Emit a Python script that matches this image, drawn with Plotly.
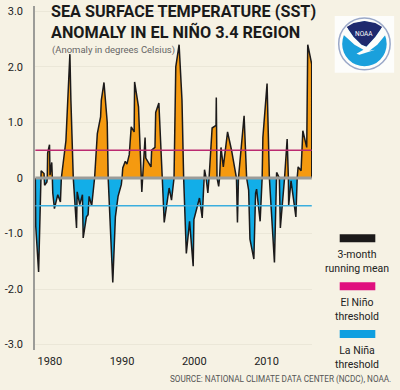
import plotly.graph_objects as go

# (year position, anomaly)
years = [1978.0,1978.05,1978.45,1978.73,1978.76,1978.8,1979.2,1979.27,1979.28,1979.6,1979.65,1979.7,1979.96,1980.03,1980.27,1980.35,1980.41,1980.64,1981.1,1981.47,1981.6,
 1982.23,1982.78,1982.92,1983.25,1983.7,1983.79,1984.15,1984.52,1984.62,1985.07,1985.3,1985.44,1985.8,1986.2,1986.58,1987.03,1987.13,1987.5,1987.95,1988.08,1988.72,1989.08,1989.45,1989.9,1990.0,
 1990.1,1990.45,1990.68,1991.0,1991.27,1991.68,1991.74,1992.28,1992.67,1992.74,1992.85,1993.19,1993.29,1994.01,1994.1,1994.56,1994.66,1995.1,1995.57,1995.84,1996.52,1996.85,1997.2,
 1997.44,1997.9,1998.3,1998.53,1998.9,1999.35,1999.85,1999.95,2000.72,2001.1,2001.3,2001.42,2001.64,2001.88,2002.05,2002.47,2003.01,2003.05,2003.15,2003.38,2003.5,2003.7,2004.02,2004.61,2005.16,2005.84,2005.98,2006.12,
 2006.9,2007.25,2007.53,2007.71,2008.25,2008.49,2008.63,2009.12,2009.4,2009.5,2010.08,2010.4,2011.1,2011.37,2011.4,2011.78,2011.92,2012.5,2012.86,2013.03,2013.07,2013.4,2014.07,2014.25,2014.38,2014.79,2015.03,2015.57,2015.71,2016.26,2016.27]
anomaly = [0,-0.86,-1.69,-0.2,0,0.13,0.08,0,-0.13,-0.07,0,0.45,0.6,0.05,0.28,0,-0.27,-0.55,-0.3,-0.43,0,
 0.67,2.23,1.4,0,-0.9,-0.25,-0.48,-0.3,-1.08,-0.7,-0.66,-0.33,-0.5,0,0.8,1.1,1.4,1.72,1.0,0,-1.88,-0.7,-0.33,-0.12,0,
 0.18,0.3,0.25,0.42,0.92,0.83,1.73,1.28,0,-0.25,0,0.73,0.36,0.2,0.5,0.55,1.18,1.35,0,-0.8,-0.18,-0.4,0,
 2.0,2.4,1.4,0,-1.36,-0.78,-1.59,-0.75,-0.36,-0.72,0,0.15,0,-0.27,0,0.9,0.95,1.45,0,-0.15,0,0.55,0.2,0.83,0.5,0,-0.8,0,
 1.12,0,-0.22,-1.1,-1.46,-0.27,-0.2,-0.78,0,0.73,1.7,0,-1.52,0,0.1,0,-0.9,0,0.7,0,-0.5,-0.05,-0.7,0,0.2,0.13,0.85,0.55,2.4,2.05,0]
el_nino = 0.5
la_nina = -0.5
year_ticks = [1980, 1990, 2000, 2010]
y_ticks = [3, 2, 1, 0, -1, -2, -3]
y_labels = ["3.0", "2.0", "1.0", "0", "-1.0", "-2.0", "-3.0"]
legend_items = [("3-month<br>running mean", "#1c1a1a"), ("El Niño<br>threshold", "#e0107f"), ("La Niña<br>threshold", "#0f9fe0")]

W, H = 400, 390
L, R, T, B = 32, 312, 5, 350
FONT = "Roboto, sans-serif"
px = lambda x: (x - L) / (R - L)
py = lambda y: (B - y) / (B - T)

fig = go.Figure()
fig.add_trace(go.Scatter(x=years, y=[max(v, 0) for v in anomaly], mode="none", fill="tozeroy", fillcolor="#f59a10", hoverinfo="skip"))
fig.add_trace(go.Scatter(x=years, y=[min(v, 0) for v in anomaly], mode="none", fill="tozeroy", fillcolor="#12aee8", hoverinfo="skip"))
fig.add_trace(go.Scatter(x=years, y=anomaly, mode="lines", line=dict(color="#1c1a1a", width=1.5), hoverinfo="skip"))
x0, x1 = years[0], years[-1]
fig.add_trace(go.Scatter(x=[x0, x1], y=[el_nino]*2, mode="lines", line=dict(color="#bb2a70", width=1.6), hoverinfo="skip"))
fig.add_trace(go.Scatter(x=[x0, x1], y=[la_nina]*2, mode="lines", line=dict(color="#3aaede", width=1.6), hoverinfo="skip"))
fig.add_trace(go.Scatter(x=[x0, x1], y=[0, 0], mode="lines", line=dict(color="#9c9c98", width=3.2), hoverinfo="skip"))

shapes = []
annos = []
# legend
for (lab, col), top in zip(legend_items, (234, 282, 330)):
    shapes.append(dict(type="rect", xref="paper", yref="paper", x0=px(340), x1=px(376), y0=py(top), y1=py(top+8), fillcolor=col, line_width=0))
    annos.append(dict(text=lab, xref="paper", yref="paper", x=px(357), y=py(top+12), xanchor="center", yanchor="top", showarrow=False,
                      font=dict(family=FONT, size=10.5, color="#222"), align="center"))
# logo
shapes.append(dict(type="rect", xref="paper", yref="paper", x0=px(335), x1=px(395), y0=py(15), y1=py(72), fillcolor="#fdfdfb", line_width=0))
def circ(cx, cy, r, **kw):
    shapes.append(dict(type="circle", xref="paper", yref="paper", x0=px(cx-r), x1=px(cx+r), y0=py(cy+r), y1=py(cy-r), **kw))
circ(365, 43, 26, fillcolor="#fdfdfb", line=dict(color="#9aa8c8", width=1.5))
circ(365, 43, 22.5, fillcolor="#1aa0dc", line_width=0)
def path(pts):
    return "M " + " L ".join(f"{px(a):.4f},{py(b):.4f}" for a, b in pts) + " Z"
shapes.append(dict(type="path", xref="paper", yref="paper", fillcolor="#1f2a6e", line_width=0,
    path=path([(347,26),(354,22),(365,20),(376,22),(383,26),(376,36),(367,46),(362,44),(354,36)])))
shapes.append(dict(type="path", xref="paper", yref="paper", fillcolor="#fdfdfb", line_width=0,
    path=path([(343,33),(347,26),(354,36),(362,44),(367,46),(376,36),(383,26),(387,33),(378,44),(370,50),(376,49),(360,54),(357,53),(364,49),(355,44)])))
annos.append(dict(text="NOAA", xref="paper", yref="paper", x=px(365), y=py(33), xanchor="center", yanchor="middle", showarrow=False,
                  font=dict(family=FONT, size=6.5, color="#fdfdfb")))
# titles
annos.append(dict(text="<b>SEA SURFACE TEMPERATURE (SST)<br>ANOMALY IN EL NIÑO 3.4 REGION</b>", xref="paper", yref="paper", x=px(46), y=py(-1), xanchor="left", yanchor="top",
                  showarrow=False, align="left", font=dict(family=FONT, size=16.2, color="#1a1a1a")))
annos.append(dict(text="(Anomaly in degrees Celsius)", xref="paper", yref="paper", x=px(47), y=py(49), xanchor="left", yanchor="middle",
                  showarrow=False, font=dict(family=FONT, size=9.5, color="#666")))
annos.append(dict(text="SOURCE: NATIONAL CLIMATE DATA CENTER (NCDC), NOAA.", xref="paper", yref="paper", x=px(394), y=py(380), xanchor="right", yanchor="middle",
                  showarrow=False, font=dict(family=FONT, size=8.2, color="#555")))

fig.update_layout(width=W, height=H, margin=dict(l=L, r=W-R, t=T, b=H-B, pad=0), showlegend=False,
    paper_bgcolor="#f6f2e4", plot_bgcolor="#f6f2e4", shapes=shapes, annotations=annos,
    xaxis=dict(range=[1977.95, 2016.3], tickvals=year_ticks, ticktext=[str(y) for y in year_ticks], showgrid=False, zeroline=False, showline=False,
               ticks="", tickfont=dict(family=FONT, size=11, color="#222"), ticklabelstandoff=3),
    yaxis=dict(range=[-3.097, 3.097], tickvals=y_ticks, ticktext=y_labels, showgrid=True, gridcolor="#ebe7d8", gridwidth=1, zeroline=False,
               showline=True, linecolor="#9c9c98", linewidth=1.5, ticks="", tickfont=dict(family=FONT, size=11, color="#222"), ticklabelstandoff=8))
fig.write_html("out.html", config=dict(displayModeBar=False), post_script="document.body.style.margin='0';")
